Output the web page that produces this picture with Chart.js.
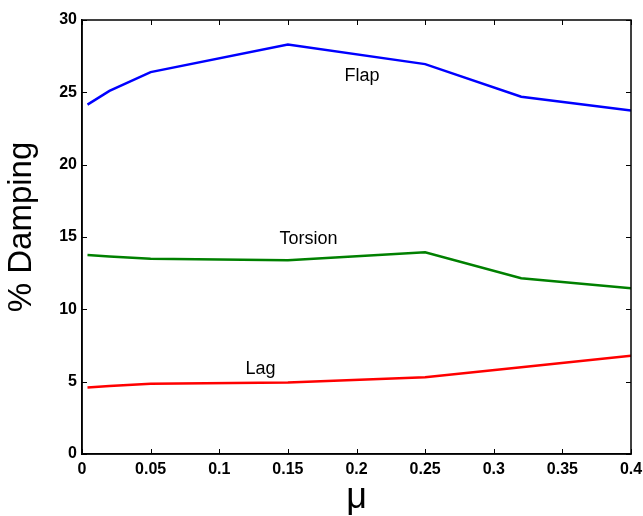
<!DOCTYPE html>
<html>
<head>
<meta charset="utf-8">
<script src="https://cdn.jsdelivr.net/npm/chart.js@4.4.1/dist/chart.umd.min.js"></script>
<style>
  html, body { margin: 0; padding: 0; background: #ffffff; }
  #wrap { width: 643px; height: 516px; position: relative; }
</style>
</head>
<body>
<div id="wrap"><canvas id="c"></canvas></div>
<script>
// ---- data ----
const mu       = [0.004, 0.02, 0.05, 0.15, 0.25, 0.32, 0.40];
const flap     = [24.15, 25.1, 26.4, 28.3, 26.95, 24.7, 23.75];
const torsion  = [13.75, 13.65, 13.5, 13.4, 13.95, 12.15, 11.45];
const lag      = [4.6, 4.7, 4.85, 4.95, 5.3, 6.0, 6.8];
const seriesNames = ['Flap', 'Torsion', 'Lag'];
const labelMu  = [0.204, 0.165, 0.13];
const labelVal = [26.1, 14.85, 5.9];
const xTicks   = [0, 0.05, 0.1, 0.15, 0.2, 0.25, 0.3, 0.35, 0.4];
const yTicks   = [0, 5, 10, 15, 20, 25, 30];
const yTitle   = '% Damping';
const xTitle   = 'μ';

const FONT = '"Liberation Sans", Arial, Helvetica, sans-serif';

function pts(ys) { return mu.map((m, i) => ({ x: m, y: ys[i] })); }

const frame = {
  id: 'frame',
  afterDraw(chart) {
    const { ctx, chartArea: a, scales } = chart;
    ctx.save();
    ctx.strokeStyle = '#000';
    ctx.lineWidth = 1;
    const L = 5;
    ctx.beginPath();
    xTicks.forEach(v => {
      const px = Math.round(scales.x.getPixelForValue(v)) + 0.5;
      ctx.moveTo(px, a.bottom); ctx.lineTo(px, a.bottom - L);
      ctx.moveTo(px, a.top); ctx.lineTo(px, a.top + L);
    });
    yTicks.forEach(v => {
      const py = Math.round(scales.y.getPixelForValue(v)) + 0.5;
      ctx.moveTo(a.left, py); ctx.lineTo(a.left + L, py);
      ctx.moveTo(a.right, py); ctx.lineTo(a.right - L, py);
    });
    ctx.stroke();
    ctx.lineWidth = 1.5;
    ctx.strokeRect(a.left, a.top, a.right - a.left, a.bottom - a.top);
    // series labels
    ctx.fillStyle = '#000';
    ctx.font = '18px ' + FONT;
    ctx.textAlign = 'center';
    ctx.textBaseline = 'middle';
    seriesNames.forEach((n, i) => {
      ctx.fillText(n, scales.x.getPixelForValue(labelMu[i]), scales.y.getPixelForValue(labelVal[i]));
    });
    // y axis title
    ctx.font = '33px ' + FONT;
    ctx.translate(22, (a.top + a.bottom) / 2 - 10);
    ctx.rotate(-Math.PI / 2);
    ctx.fillText(yTitle, 0, 0);
    ctx.restore();
  }
};

new Chart(document.getElementById('c'), {
  type: 'line',
  data: {
    datasets: [
      { label: 'Flap', data: pts(flap), borderColor: '#0000ff' },
      { label: 'Torsion', data: pts(torsion), borderColor: '#008000' },
      { label: 'Lag', data: pts(lag), borderColor: '#ff0000' }
    ]
  },
  options: {
    responsive: true,
    maintainAspectRatio: false,
    animation: false,
    devicePixelRatio: 1,
    layout: { padding: { top: 20, right: 12, left: 0, bottom: 0 } },
    elements: {
      line: { borderWidth: 2.5, tension: 0, fill: false },
      point: { radius: 0, hoverRadius: 0 }
    },
    plugins: { legend: { display: false }, tooltip: { enabled: false } },
    scales: {
      x: {
        type: 'linear', min: 0, max: 0.4,
        afterBuildTicks(s) { s.ticks = xTicks.map(v => ({ value: v })); },
        afterFit(s) { s.height = 62; s.paddingRight = 0; s.paddingLeft = 0; },
        grid: { display: false, drawTicks: false },
        border: { display: true, color: '#000', width: 1.5 },
        ticks: {
          padding: 6, color: '#000', maxRotation: 0, autoSkip: false,
          font: { family: FONT, size: 16, weight: 'bold' },
          callback: v => String(+Number(v).toFixed(2))
        },
        title: {
          display: true, text: xTitle, color: '#000',
          font: { family: FONT, size: 36 }, padding: { top: 0, bottom: -4 }
        }
      },
      y: {
        type: 'linear', min: 0, max: 30,
        afterBuildTicks(s) { s.ticks = yTicks.map(v => ({ value: v })); },
        afterFit(s) { s.width = 82; s.paddingTop = 0; s.paddingBottom = 0; },
        grid: { display: false, drawTicks: false },
        border: { display: true, color: '#000', width: 1.5 },
        ticks: {
          padding: 5, color: '#000', autoSkip: false,
          font: { family: FONT, size: 16, weight: 'bold' },
          callback: v => String(v)
        },
        title: { display: false, text: yTitle }
      }
    }
  },
  plugins: [frame]
});
</script>
</body>
</html>
